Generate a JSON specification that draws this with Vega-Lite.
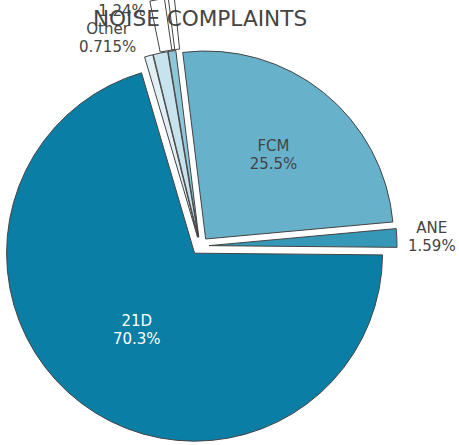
{
  "$schema": "https://vega.github.io/schema/vega-lite/v6.json",
  "width": 400,
  "height": 398,
  "autosize": {"type": "none"},
  "padding": {"left": 0, "top": 47, "right": 59, "bottom": 0},
  "background": "white",
  "title": {"text": "NOISE COMPLAINTS", "font": "DejaVu Sans", "fontSize": 21.6, "fontWeight": "normal", "color": "#444", "anchor": "middle", "frame": "group", "baseline": "alphabetic", "offset": 0, "dy": 52},
  "data": {"values": [
    {"name": "FCM", "pct": 25.5, "rank": 1, "label": "FCM\n25.5%"},
    {"name": "ANE", "pct": 1.59, "rank": 2, "label": "ANE\n1.59%"},
    {"name": "21D", "pct": 70.3, "rank": 3, "label": "21D\n70.3%"},
    {"name": "Other", "pct": 0.715, "rank": 4, "label": "Other\n0.715%"},
    {"name": "NM1", "pct": 1.24, "rank": 5, "label": "1.24%"},
    {"name": "NC1", "pct": 0.655, "rank": 6, "label": "0.655%"}
  ]},
  "encoding": {
    "theta": {"field": "pct", "type": "quantitative", "stack": true, "scale": {"range": [-0.1222, 6.1610]}},
    "order": {"field": "rank", "type": "quantitative", "sort": "ascending"}
  },
  "layer": [
    {
      "mark": {"type": "arc", "outerRadius": 188, "stroke": "#444", "strokeWidth": 1,
        "xOffset": {"expr": "9*sin(scale('theta',(datum.pct_start+datum.pct_end)/2))"},
        "yOffset": {"expr": "-9*cos(scale('theta',(datum.pct_start+datum.pct_end)/2))"}},
      "encoding": {
        "color": {"field": "name", "type": "nominal", "legend": null,
          "scale": {"domain": ["FCM", "ANE", "21D", "Other", "NM1", "NC1"], "range": ["#67b1cb", "#3598b6", "#0a7ea4", "#e0f0f5", "#c7e3ed", "#8ec6da"]}}
      }
    },
    {
      "mark": {"type": "arc", "outerRadius": 241, "innerRadius": 189, "fill": null, "stroke": "#444", "strokeWidth": 1,
        "thetaOffset": {"expr": "(scale('theta',datum.pct_end)-scale('theta',datum.pct_start))/2"},
        "theta2Offset": {"expr": "-(scale('theta',datum.pct_end)-scale('theta',datum.pct_start))/2"},
        "xOffset": {"expr": "9*sin(scale('theta',(datum.pct_start+datum.pct_end)/2))"},
        "yOffset": {"expr": "-9*cos(scale('theta',(datum.pct_start+datum.pct_end)/2))"}},
      "encoding": {
        "opacity": {"condition": {"test": "datum.name === 'NM1' || datum.name === 'NC1'", "value": 1}, "value": 0}
      }
    },
    {
      "mark": {"type": "text", "radius": 96, "font": "DejaVu Sans", "fontSize": 15, "lineBreak": "\n", "lineHeight": 18, "baseline": "middle", "align": "center", "dy": -9, "color": "white",
        "xOffset": {"expr": "9*sin(scale('theta',(datum.pct_start+datum.pct_end)/2))"},
        "yOffset": {"expr": "-9*cos(scale('theta',(datum.pct_start+datum.pct_end)/2))"}},
      "encoding": {
        "text": {"condition": {"test": "datum.name === '21D'", "field": "label"}, "value": ""}
      }
    },
    {
      "mark": {"type": "text", "radius": 108, "font": "DejaVu Sans", "fontSize": 15, "lineBreak": "\n", "lineHeight": 18, "baseline": "middle", "align": "center", "dy": -9, "color": "#444",
        "xOffset": {"expr": "9*sin(scale('theta',(datum.pct_start+datum.pct_end)/2))"},
        "yOffset": {"expr": "-9*cos(scale('theta',(datum.pct_start+datum.pct_end)/2))"}},
      "encoding": {
        "text": {"condition": {"test": "datum.name === 'FCM'", "field": "label"}, "value": ""}
      }
    },
    {
      "mark": {"type": "text", "radius": 223, "font": "DejaVu Sans", "fontSize": 15, "lineBreak": "\n", "lineHeight": 18, "baseline": "middle", "align": "center", "dy": -9, "color": "#444",
        "xOffset": {"expr": "9*sin(scale('theta',(datum.pct_start+datum.pct_end)/2))"},
        "yOffset": {"expr": "-9*cos(scale('theta',(datum.pct_start+datum.pct_end)/2))"}},
      "encoding": {
        "text": {"condition": {"test": "datum.name === 'ANE'", "field": "label"}, "value": ""}
      }
    },
    {
      "mark": {"type": "text", "radius": 219, "thetaOffset": -0.16, "font": "DejaVu Sans", "fontSize": 15, "lineBreak": "\n", "lineHeight": 18, "baseline": "middle", "align": "center", "dy": -9, "color": "#444",
        "xOffset": {"expr": "9*sin(scale('theta',(datum.pct_start+datum.pct_end)/2))"},
        "yOffset": {"expr": "-9*cos(scale('theta',(datum.pct_start+datum.pct_end)/2))"}},
      "encoding": {
        "text": {"condition": {"test": "datum.name === 'Other'", "field": "label"}, "value": ""}
      }
    },
    {
      "mark": {"type": "text", "radius": 239, "thetaOffset": -0.122, "font": "DejaVu Sans", "fontSize": 15, "baseline": "middle", "align": "center", "color": "#444",
        "xOffset": {"expr": "9*sin(scale('theta',(datum.pct_start+datum.pct_end)/2))"},
        "yOffset": {"expr": "-9*cos(scale('theta',(datum.pct_start+datum.pct_end)/2))"}},
      "encoding": {
        "text": {"condition": {"test": "datum.name === 'NM1'", "field": "label"}, "value": ""}
      }
    }
  ],
  "config": {"view": {"stroke": null}}
}
